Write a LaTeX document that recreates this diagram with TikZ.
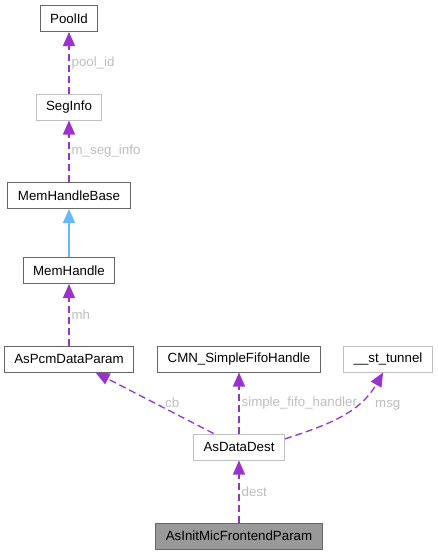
\documentclass[tikz,border=0pt]{standalone}
\usepackage{fontspec}
\setmainfont{Liberation Sans}
\usetikzlibrary{arrows.meta,positioning}
\definecolor{boxdark}{HTML}{666666}
\definecolor{boxlight}{HTML}{BFBFBF}
\definecolor{mainfill}{HTML}{999999}
\definecolor{useedge}{HTML}{9A32CD}
\definecolor{inheritedge}{HTML}{63B8FF}
\definecolor{labelgrey}{HTML}{BEBEBE}
\begin{document}
\begin{tikzpicture}[node distance=88.5pt,
  every node/.style={font=\fontsize{13.3pt}{15pt}\selectfont},
  cls/.style={draw=boxdark, line width=1pt, fill=white, minimum height=26pt, inner xsep=10pt, inner ysep=0pt},
  undoc/.style={cls, draw=boxlight},
  self/.style={cls, fill=mainfill},
  uses/.style={color=useedge, line width=1.3pt, dash pattern=on 7pt off 4pt, -{Triangle[length=14pt,width=12pt]}},
  inherits/.style={color=inheritedge, line width=1.3pt, -{Triangle[length=14pt,width=12pt]}},
  member/.style={text=labelgrey, inner xsep=2pt}]
\useasboundingbox (0,0) rectangle (438pt,-555pt);

\node (pool id) [cls] at (69pt,-18.5pt) {PoolId};
\node (seg info) [undoc, below of=pool id] {SegInfo};
\node (mem handle base) [cls, below of=seg info] {MemHandleBase};
\node (mem handle) [cls, node distance=75pt, below of=mem handle base] {MemHandle};
\node (pcm data param) [cls, below of=mem handle] {AsPcmDataParam};
\node (fifo handle) [cls, node distance=170pt, right of=pcm data param] {CMN\_SimpleFifoHandle};
\node (st tunnel) [undoc, node distance=149pt, right of=fifo handle] {\_\_st\_tunnel};
\node (data dest) [undoc, node distance=88pt, below of=fifo handle] {AsDataDest};
\node (mic frontend) [self, node distance=89pt, below of=data dest] {AsInitMicFrontendParam};

\draw [uses] (seg info.north) -- (pool id.south) node[member, right, pos=0.5] {pool\_id};
\draw [uses] (mem handle base.north) -- (seg info.south) node[member, right, pos=0.5] {m\_seg\_info};
\draw [inherits] (mem handle.north) -- (mem handle base.south);
\draw [uses] (pcm data param.north) -- (mem handle.south) node[member, right, pos=0.5] {mh};

\draw [uses] (data dest.152) -- (pcm data param.-27) node[member, pos=0.5, right=8pt] {cb};
\draw [uses] (data dest.north) -- (fifo handle.south) node[member, right, pos=0.5] {simple\_fifo\_handler};
\draw [uses] (data dest.10) to[out=18, in=-120] (st tunnel.-110);
\node [member, anchor=west] at ([xshift=-15pt, yshift=-33pt]st tunnel.south) {msg};

\draw [uses] (mic frontend.north) -- (data dest.south) node[member, right, pos=0.5] {dest};

\end{tikzpicture}
\end{document}
